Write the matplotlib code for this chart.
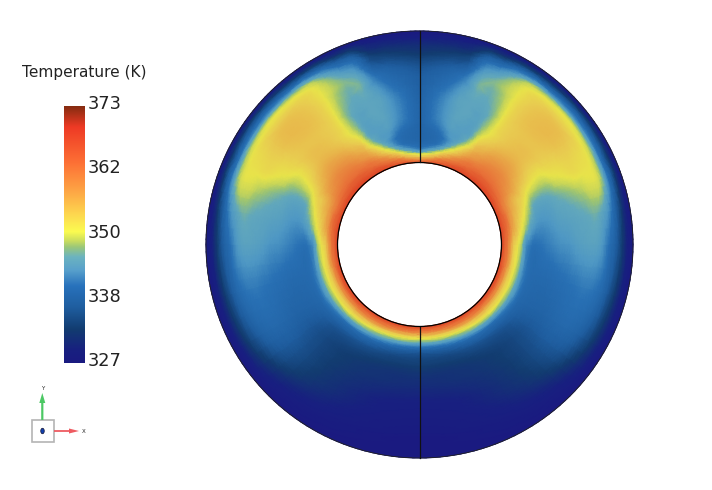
import numpy as np
import matplotlib
matplotlib.use("Agg")
import matplotlib.pyplot as plt
import matplotlib.tri as mtri
from matplotlib.colors import LinearSegmentedColormap, Normalize
from matplotlib.patches import Circle, Rectangle, FancyArrow, Ellipse

# Temperature (K), one list per angle from the top
angles = [0, 10, 15, 20, 25, 30, 35, 40, 50, 60, 65, 70, 80, 90, 105, 120, 135, 150, 165, 180]
radii = [82, 85, 88, 91, 94, 98, 102, 107, 113, 120, 130, 140, 150, 160, 170, 180, 190, 195, 200, 207, 213.5]
temps = [
    [366, 360, 353, 348, 343, 340, 339, 338.5, 338.5, 338.5, 338.5, 338.5, 338, 337.5, 337, 335.5, 333, 332, 331, 329, 327],
    [367, 363, 358, 352.5, 348.5, 344, 341, 340, 340.5, 342, 343, 343, 342.5, 341, 339.5, 337.5, 334.5, 333, 331.5, 329.5, 327],
    [367, 364, 361, 357, 353, 348.5, 344.5, 342.5, 343.5, 344.5, 345, 345, 345, 344, 342, 339, 335.5, 334, 332, 330, 327],
    [368, 365, 362.5, 360, 357, 353, 349.5, 346, 344.5, 344.5, 345, 345.5, 345.5, 346, 346.5, 345, 342, 340, 337, 332, 327],
    [368, 366, 364, 362, 360, 357, 354.5, 351, 347.5, 345.5, 345, 345, 345.5, 346, 346.5, 347, 344, 341.5, 338, 332, 327],
    [368, 366.5, 365, 363, 362, 360, 358, 356, 354, 351.5, 349, 348, 347.5, 348, 348.5, 349, 347.5, 345, 341, 334, 327],
    [368, 366.5, 365, 364, 362.5, 361, 359.5, 358, 356, 354, 352, 352, 352, 352, 352, 351.5, 350.5, 348.5, 343, 334, 327],
    [368, 367, 365.5, 364.5, 363, 362, 361, 359.5, 358, 356, 354, 353.5, 353.5, 354, 354, 353.5, 351.5, 349, 343, 334, 327],
    [368, 367, 365.5, 364.5, 363, 362, 361, 360, 358.5, 357, 355, 354.5, 354, 354.5, 355, 354.5, 351.5, 349.5, 343, 335, 327],
    [368, 366.5, 364.5, 363, 361.5, 360, 358.5, 357, 355, 353, 351, 350.5, 351.5, 352, 352.5, 352, 350.5, 348, 342, 334, 327],
    [368, 366, 364, 362, 360, 358, 356, 354, 352.5, 349.5, 348, 348, 349.5, 350.5, 351.5, 351, 350, 347, 341, 333, 327],
    [368, 366, 364, 362, 359.5, 357, 355, 353, 350, 346.5, 345.5, 346, 347, 348, 349, 350, 349.5, 346.5, 341, 333, 327],
    [368, 366, 363.5, 361, 358, 355, 352, 349, 345.5, 343.5, 343.5, 344.5, 345, 345.5, 346, 346.5, 344, 341, 337, 331, 327],
    [368, 365, 362, 358, 354, 351, 348, 343, 341, 341, 342, 343, 343.5, 344.5, 345, 344.5, 340.5, 338, 335, 330, 327],
    [368, 365, 361.5, 357.5, 353.5, 350, 347, 342.5, 340, 339.5, 339.5, 340, 340.5, 341, 341.5, 341, 338.5, 336, 333.5, 329.5, 327],
    [368, 365, 361.5, 357.5, 353.5, 350, 347, 343, 339.5, 338.5, 338, 338, 338.5, 339, 339, 338, 335.5, 334, 332, 329, 327],
    [368, 365, 361.5, 357.5, 353.5, 350, 346, 341, 337.5, 335.5, 334.5, 334.5, 334.5, 334.5, 334, 333, 331, 330, 329, 328, 327],
    [368, 365, 361, 357, 352.5, 348.5, 345, 340, 336.5, 334.5, 333, 332.5, 332, 331.5, 331, 330, 329, 328.5, 328, 327.5, 327],
    [368, 364.5, 360.5, 355.5, 351, 347, 343, 338, 335, 333.5, 332, 331.5, 330.5, 329.5, 329, 328.5, 328, 327.5, 327.5, 327, 327],
    [368, 364, 360, 355, 350.5, 346, 342, 337, 334.5, 333.5, 332, 331, 330, 329, 328.5, 328, 327.5, 327, 327, 327, 327],
]

tick_values = [327, 338.5, 350, 361.5, 373]
tick_labels = ["327", "338", "350", "362", "373"]

# colormap stops; the color bar is brighter than the shaded field
stop_temps = [327.0, 329.3, 333.0, 337.0, 340.8, 343.6, 346.0, 347.8, 348.8, 350.5, 353.2, 357.8, 362.9, 369.3, 373.0]
bar_colors = ["#1a1a80", "#182080", "#123c70", "#1f5ea0", "#2872bc", "#58a0cc", "#6cb4c0", "#9cc878",
              "#c8dc60", "#fbfb50", "#fddc50", "#fea545", "#fd7035", "#ee3a25", "#852c10"]
field_colors = ["#1a1a80", "#182080", "#123c70", "#1f5ea0", "#2870b4", "#4f98c4", "#62a8bc", "#9cc474",
                "#c4d45c", "#e8e44a", "#e8cc50", "#e8a045", "#e87038", "#dc3a22", "#852c10"]

T_MIN, T_MAX = 327, 373
CX, CY = 419.5, 244.5
R_IN, R_OUT = 82, 213.5


def make_cmap(colors):
    pos = [(t - T_MIN) / (T_MAX - T_MIN) for t in stop_temps]
    return LinearSegmentedColormap.from_list("thermal", list(zip(pos, colors)), N=512)


norm = Normalize(T_MIN, T_MAX)

fig = plt.figure(figsize=(7.12, 4.9), dpi=100)
ax = fig.add_axes([0, 0, 1, 1])
ax.set_xlim(0, 712)
ax.set_ylim(490, 0)
ax.axis("off")

# smooth the table in (angle, radius) space so that the walls stay round
aa, rr = np.meshgrid(angles, radii, indexing="ij")
tt = np.array(temps)
tri = mtri.Triangulation(aa.ravel(), rr.ravel())
interp = mtri.CubicTriInterpolator(tri, tt.ravel(), kind="geom")
tri_fine, t_fine = mtri.UniformTriRefiner(tri).refine_field(tt.ravel(), triinterpolator=interp, subdiv=3)
t_fine = np.clip(t_fine, T_MIN, T_MAX)
rad = np.deg2rad(tri_fine.x)

for side in (-1, 1):
    x = CX + side * tri_fine.y * np.sin(rad)
    y = CY - tri_fine.y * np.cos(rad)
    ax.tripcolor(x, y, tri_fine.triangles, t_fine, shading="gouraud", cmap=make_cmap(field_colors), norm=norm)

ax.add_patch(Circle((CX, CY), R_OUT, fill=False, ec="#222222", lw=0.6))
ax.add_patch(Circle((CX, CY), R_IN, fill=False, ec="black", lw=0.9))
ax.plot([CX, CX], [CY - R_OUT, CY - R_IN], color="#111111", lw=0.9)
ax.plot([CX, CX], [CY + R_IN, CY + R_OUT], color="#111111", lw=0.9)

# color bar
cax = fig.add_axes([64 / 712, 1 - 363 / 490, 21 / 712, 257 / 490])
cax.imshow(np.linspace(T_MAX, T_MIN, 512).reshape(-1, 1), aspect="auto", cmap=make_cmap(bar_colors), norm=norm,
           extent=[0, 1, T_MIN, T_MAX])
cax.axis("off")
for val, lab in zip(tick_values, tick_labels):
    y = 363 - (val - T_MIN) / (T_MAX - T_MIN) * 257 - 2
    ax.text(88, y, lab, fontsize=12.8, va="center", ha="left", color="#222222")
ax.text(84, 72, "Temperature (K)", fontsize=11.1, va="center", ha="center", color="#222222")

# orientation triad
ax.add_patch(Rectangle((31.5, 420), 22, 22, fc="white", ec="#b4b4b4", lw=1.2))
ax.add_patch(FancyArrow(42.3, 420, 0, -27, width=2.2, head_width=6, head_length=10,
                        length_includes_head=True, color="#4cc864", lw=0))
ax.add_patch(FancyArrow(54, 431, 25, 0, width=1.8, head_width=5, head_length=10,
                        length_includes_head=True, color="#ee5a60", lw=0))
ax.add_patch(Ellipse((42.5, 431), 3.5, 5.5, fc="#1040b0", ec="#101030", lw=0.5))
ax.text(42.5, 388, "Y", fontsize=4, ha="center", va="center", color="#222222")
ax.text(84, 431, "X", fontsize=4, ha="center", va="center", color="#222222")

fig.savefig("out.png", dpi=100)
